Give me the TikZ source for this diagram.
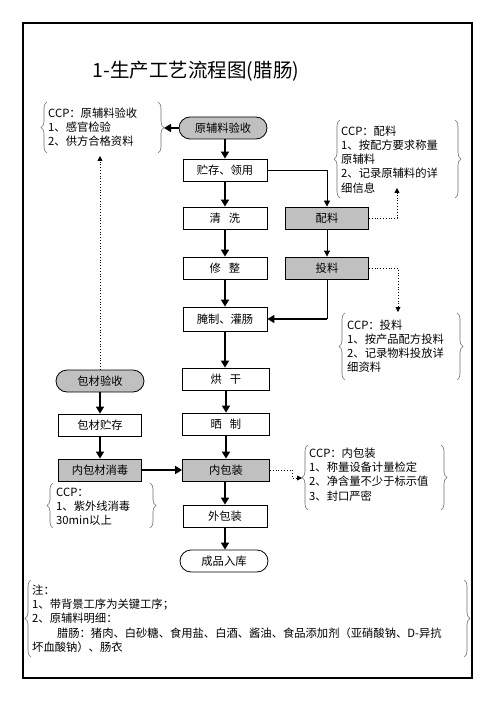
\documentclass[tikz,border=0pt]{standalone}
\usepackage{fontspec}
\setmainfont{Noto Sans CJK SC}
\usetikzlibrary{arrows.meta,decorations.pathreplacing,calc}
\definecolor{keygray}{RGB}{192,192,192}
\definecolor{bracecol}{RGB}{110,110,110}
\begin{document}
\begin{tikzpicture}[x=1pt,y=-1pt,
  every node/.style={font=\fontsize{11.3}{14.3}\selectfont},
  box/.style={draw,line width=0.8pt,minimum width=84pt,minimum height=22pt,inner sep=0pt},
  keybox/.style={box,fill=keygray},
  stadium/.style={box,rounded corners=11pt,minimum width=88pt},
  thickarrow/.style={line width=1.6pt,-{Triangle[length=7pt,width=8pt]}},
  thickline/.style={line width=1.6pt},
  thinarrow/.style={line width=0.8pt,-{Triangle[length=6pt,width=6pt]}},
  thinline/.style={line width=0.8pt},
  dotarrow/.style={line width=0.8pt,dotted,-{Triangle[length=5pt,width=5pt]}},
  bracel/.style={draw=bracecol,line width=0.6pt,decorate,decoration={brace,amplitude=6pt}},
  notetext/.style={anchor=north west,align=left,inner sep=0pt}
]
\useasboundingbox (0,0) rectangle (497,703);
\draw[line width=1.2pt] (23,23) rectangle (472,678);

\node[font=\fontsize{19.5}{22}\selectfont] (title) at (196,71) {1-生产工艺流程图(腊肠)};

% main column
\node[stadium,fill=keygray] (ys) at (223,128) {原辅料验收};
\node[box] (zc) at (225,170) {贮存、领用};
\node[box] (qx) at (225,218) {清\hspace{0.7em}洗};
\node[keybox,minimum width=83pt] (pl) at (327,218) {配料};
\node[box] (xz) at (225,268) {修\hspace{0.7em}整};
\node[keybox,minimum width=83pt] (tl) at (327,268) {投料};
\node[box,minimum height=24pt] (yz) at (225,319) {腌制、灌肠};
\node[box,minimum width=87pt] (hg) at (226,379) {烘\hspace{0.7em}干};
\node[box,minimum width=87pt] (sz) at (226,424) {晒\hspace{0.7em}制};
\node[keybox,minimum width=87pt] (nb) at (226,470) {内包装};
\node[box] (wb) at (225,516) {外包装};
\node[stadium] (cp) at (224,561) {成品入库};

% left column
\node[stadium,fill=keygray] (bc) at (100,381) {包材验收};
\node[box,minimum width=83pt] (bz) at (100,425) {包材贮存};
\node[keybox,minimum width=83pt] (nx) at (100,470) {内包材消毒};

% CCP boxes
\draw[bracel] (47,153) -- (47,102);
\draw[bracel] (158,102) -- (158,153);
\node[notetext] (t1) at (48,107.4) {CCP：原辅料验收\\1、感官检验\\2、供方合格资料};

\draw[bracel] (340,198) -- (340,120);
\draw[bracel] (455,120) -- (455,198);
\node[notetext,text width=112pt] (t2) at (341,125.4) {CCP：配料\\1、按配方要求称量\\原辅料\\2、记录原辅料的详\\细信息};

\draw[bracel] (345,380) -- (345,313);
\draw[bracel] (457,313) -- (457,380);
\node[notetext] (t3) at (347,319.4) {CCP：投料\\1、按产品配方投料\\2、记录物料投放详\\细资料};

\draw[bracel] (308,510) -- (308,445);
\draw[bracel] (441,445) -- (441,510);
\node[notetext] (t4) at (309,447.4) {CCP：内包装\\1、称量设备计量检定\\2、净含量不少于标示值\\3、封口严密};

\draw[bracel] (53,528) -- (53,483);
\draw[bracel] (150,483) -- (150,528);
\node[notetext] (t5) at (56,487.4) {CCP：\\1、紫外线消毒\\30min以上};

\draw[bracel] (31,657) -- (31,580);
\draw[bracel] (464,580) -- (464,657);
\node[notetext] (t6) at (32,584.4) {注：\\1、带背景工序为关键工序；\\2、原辅料明细：\\\hspace*{2.2em}腊肠：猪肉、白砂糖、食用盐、白酒、酱油、食品添加剂（亚硝酸钠、D-异抗\\坏血酸钠）、肠衣};

% connector end points
\coordinate (b1tip) at (164,128);
\coordinate (c2) at (397,188);
\coordinate (c3) at (398,312);
\coordinate (c4a) at (292,478);
\coordinate (c4) at (302,478);
\coordinate (c1) at (100,156);
\coordinate (tlc) at (tl.south |- yz.east);

% connectors
\draw[thickarrow] (ys.south -| zc.north) -- (zc.north);
\draw[thickarrow] (ys.west) -- (b1tip);
\draw[thickarrow] (zc.south) -- (qx.north);
\draw[thinarrow] (zc.east) -| (pl.north);
\draw[thinarrow] (pl.south) -- (tl.north);
\draw[dotarrow] (pl.east) -| (c2);
\draw[thickarrow] (qx.south) -- (xz.north);
\draw[thickarrow] (xz.south) -- (yz.north);
\draw[thinline] (tl.south) -- (tlc);
\draw[thickarrow] (tlc) -- (yz.east);
\draw[dotarrow] (tl.east) -| (c3);
\draw[thickarrow] (yz.south) -- (yz.south |- hg.north);
\draw[thickarrow] (hg.south) -- (sz.north);
\draw[thickarrow] (sz.south) -- (nb.north);
\draw[thickarrow] (nb.south -| wb.south) -- (wb.north);
\draw[thickarrow] (wb.south) -- (wb.south |- cp.north);
\draw[dotarrow] (nb.east) -| (c4a) -- (c4);
\draw[thickarrow] (bc.south) -- (bz.north);
\draw[thickarrow] (bz.south) -- (nx.north);
\draw[thickarrow] (nx.east) -- (nb.west);
\draw[dotarrow] (bc.north) -- (c1);
\end{tikzpicture}
\end{document}
